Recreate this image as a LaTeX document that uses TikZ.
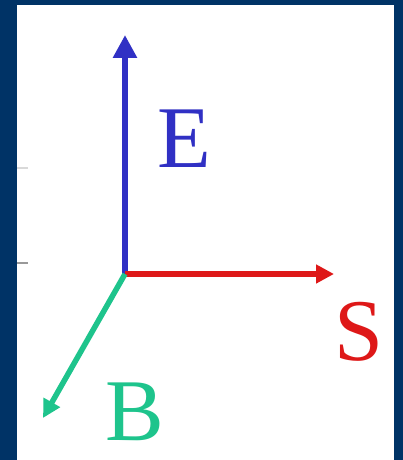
\documentclass[tikz,border=0pt]{standalone}
\usepackage{fontspec}
\setmainfont{Liberation Serif}
\usetikzlibrary{arrows.meta}
\definecolor{navyframe}{RGB}{0,51,102}
\definecolor{fieldE}{RGB}{48,48,196}
\definecolor{fieldS}{RGB}{222,24,24}
\definecolor{fieldB}{RGB}{30,196,140}
\tikzset{
  vec/.style={line width=5.5pt, -{Triangle[length=18pt,width=18pt]}},
  lbl/.style={font=\fontsize{88}{88}\selectfont, inner sep=0pt},
  tick/.style={draw=black!40, line width=1.5pt}
}
\begin{document}
\begin{tikzpicture}[x=1pt,y=-1pt]
        \fill[navyframe] (0,0) rectangle (403,460);
        \fill[white] (17,5) rectangle (394,460);
        \useasboundingbox (0,0) rectangle (403,460);
        % axes
        \coordinate (o) at (125,274);
        \coordinate (etip) at (125,35);
        \coordinate (stip) at (334,274);
        \coordinate (btip) at (43,418);
        \draw[vec, fieldE, line width=6.5pt, -{Triangle[length=23pt,width=23pt]}] (o) -- (etip);
        \draw[vec, fieldS] (o) -- (stip);
        \draw[vec, fieldB] (o) -- (btip);
        \node[lbl, text=fieldE] (E) at (184,139) {E};
        \node[lbl, text=fieldS] (S) at (359,332) {S};
        \node[lbl, text=fieldB] (B) at (135,412) {B};
        % faint marks at the left edge
        \coordinate (m1) at (17,168);
        \coordinate (m2) at (17,263);
        \draw[tick, black!15] (m1) -- ++(11,0);
        \draw[tick] (m2) -- ++(11,0);
\end{tikzpicture}
\end{document}
